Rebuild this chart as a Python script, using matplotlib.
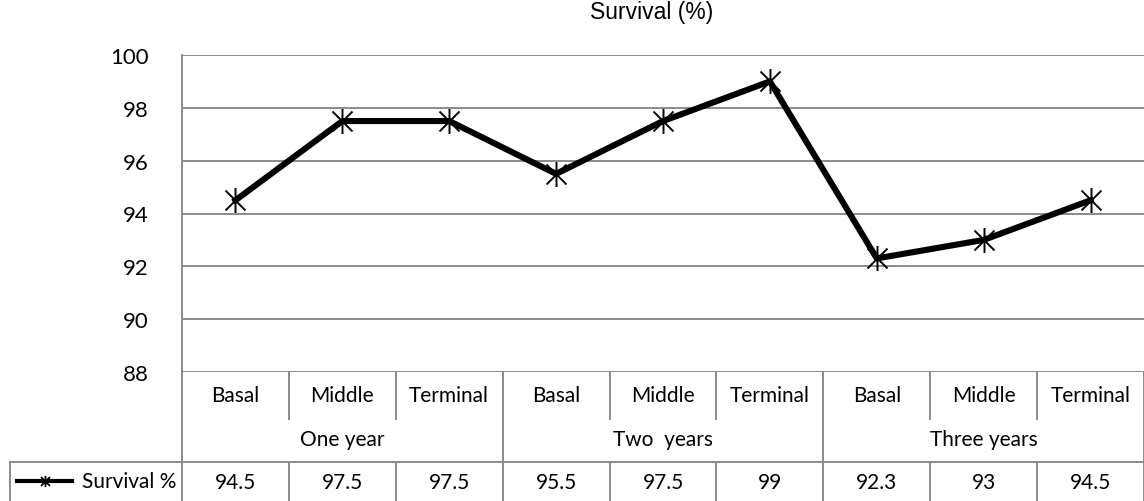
import numpy as np
import matplotlib
matplotlib.use('Agg')
import matplotlib.pyplot as plt
from matplotlib.path import Path
from matplotlib.transforms import blended_transform_factory

# Chart data
categories = ['Basal', 'Middle', 'Terminal'] * 3
groups = ['One year', 'Two  years', 'Three years']
survival = [94.5, 97.5, 97.5, 95.5, 97.5, 99, 92.3, 93, 94.5]
value_labels = ['94.5', '97.5', '97.5', '95.5', '97.5', '99', '92.3', '93', '94.5']
yticks = [88, 90, 92, 94, 96, 98, 100]

W, H = 1144, 502
grid_c = '#8a8a8a'
txt_font = 'Lato'
fs = 15

# asterisk marker: X plus vertical stroke
star = Path([(-1, -1), (1, 1), (-1, 1), (1, -1), (0, -1.25), (0, 1.25)],
            [Path.MOVETO, Path.LINETO, Path.MOVETO, Path.LINETO, Path.MOVETO, Path.LINETO])

fig = plt.figure(figsize=(W / 100, H / 100), dpi=100)
left, right, top, bottom = 182, 1144, 56, 373
ax = fig.add_axes([left / W, 1 - bottom / H, (right - left) / W, (bottom - top) / H])

x = np.arange(len(survival))
ax.plot(x, survival, color='black', lw=4.4, marker=star, ms=18, mew=1.4,
        mec='black', mfc='none', zorder=5, clip_on=False)

ax.set_xlim(-0.5, len(survival) - 0.5)
ax.set_ylim(88, 100)
ax.set_yticks(yticks)
ax.set_yticklabels([str(t) for t in yticks], fontsize=16, family=txt_font)
ax.tick_params(axis='y', length=0, pad=24)
ax.set_xticks([])
ax.grid(axis='y', color=grid_c, lw=1.4)
ax.set_axisbelow(True)
for s in ['top', 'right', 'bottom']:
    ax.spines[s].set_visible(False)
ax.spines['left'].set_color(grid_c)
ax.spines['left'].set_linewidth(1.4)
ax.spines['left'].set_bounds(88, 100)

fig.text(652 / W, 1 - 13 / H, 'Survival (%)', fontsize=16.5, family='Liberation Sans',
         ha='center', va='center')

# table below plot, in data x / axes-fraction y
tr = blended_transform_factory(ax.transData, ax.transAxes)
ph = bottom - top
def fy(py):
    return -(py - bottom) / ph

y_cat = fy(420)
y_grp = fy(463)
y_end = fy(502)
lk = dict(color=grid_c, lw=1.4, transform=tr, clip_on=False)

# left boundary extends down
ax.plot([-0.5, -0.5], [0, y_end], **lk)
# horizontal line above data row
ax.plot([-0.5 - 172 / 107, 8.5], [y_grp, y_grp], **lk)
ax.plot([-0.5 - 172 / 107] * 2, [y_grp, y_end], **lk)
for i in range(1, len(categories)):
    xb = i - 0.5
    if i % 3 == 0:
        ax.plot([xb, xb], [0, y_end], **lk)
    else:
        ax.plot([xb, xb], [0, y_cat], **lk)
        ax.plot([xb, xb], [y_grp, y_end], **lk)
ax.plot([8.5, 8.5], [0, y_end], **lk)

for i, c in enumerate(categories):
    ax.text(i, fy(396), c, transform=tr, ha='center', va='center',
            fontsize=fs, family=txt_font)
    ax.text(i, fy(483), value_labels[i], transform=tr, ha='center', va='center',
            fontsize=fs, family=txt_font)
for g, name in enumerate(groups):
    ax.text(g * 3 + 1, fy(440), name, transform=tr, ha='center', va='center',
            fontsize=fs, family=txt_font)

# legend key in the data row
xl0 = -0.5 - 165 / 107
xl1 = -0.5 - 110 / 107
ax.plot([xl0, xl1], [fy(482)] * 2, color='black', lw=3, transform=tr, clip_on=False)
ax.plot([(xl0 + xl1) / 2], [fy(482)], marker=star, ms=8, mew=1.3, mec='black',
        transform=tr, clip_on=False)
ax.text(-0.5 - 6 / 107, fy(482), 'Survival %', transform=tr, ha='right', va='center',
        fontsize=fs, family=txt_font)

fig.savefig('out.png', dpi=100)
